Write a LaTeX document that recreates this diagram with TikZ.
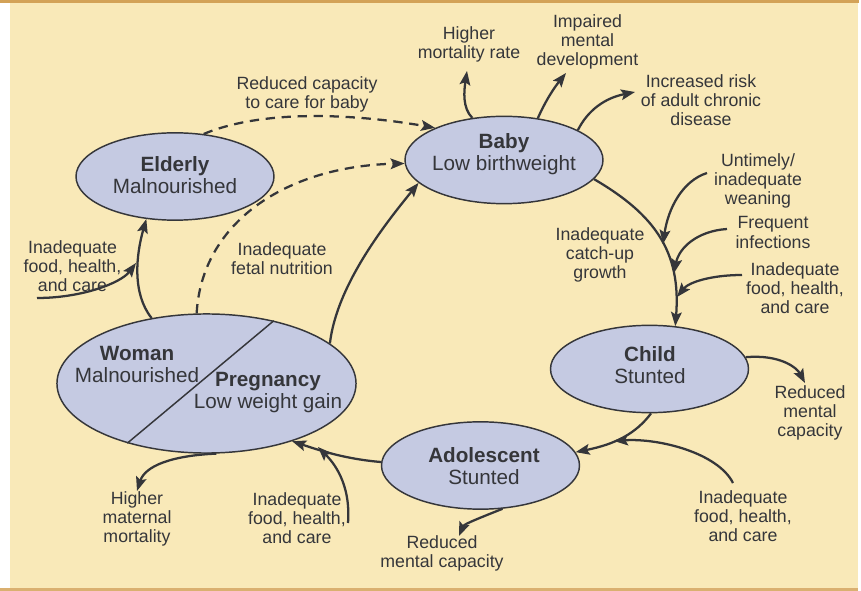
\documentclass[tikz,border=0pt]{standalone}
\usepackage{fontspec}
\setmainfont{Liberation Sans}
\usetikzlibrary{arrows.meta,shapes.geometric}

\definecolor{cream}{HTML}{F9E9B8}
\definecolor{tanbar}{HTML}{D3A257}
\definecolor{lavender}{HTML}{C5CAE2}
\definecolor{ink}{HTML}{35363A}

\tikzset{
	blob/.style={ellipse, draw=ink, line width=1.1pt, fill=lavender, minimum width=148.5pt, minimum height=65.5pt, inner sep=0pt},
	head/.style={align=center, text=ink, font=\fontsize{15.5}{16.5}\selectfont, inner sep=0pt},
	lbl/.style={align=center, text=ink, font=\fontsize{13.3}{14.3}\selectfont, inner sep=0pt},
	arr/.style={draw=ink, line width=1.7pt, -{Stealth[length=10.5pt,width=8pt,inset=2pt]}},
	dasharr/.style={arr, dash pattern=on 7pt off 5pt},
}

\begin{document}
\begin{tikzpicture}[x=0.75pt, y=-0.75pt]
			%%%%% START %%%%%
			\useasboundingbox (0, 0) rectangle (861, 591);
			\fill[white] (0, 0) rectangle (861, 591);
			\fill[cream] (10, 3) rectangle (858, 589);
			\fill[tanbar] (0, 0) rectangle (859, 3);
			\fill[tanbar!85] (0, 588.5) rectangle (858, 591);
			
			% stages
			\node[blob] (elderly) at (175, 176.5) {};
			\node[blob] (baby) at (504, 160) {};
			\node[blob] (child) at (649.5, 369) {};
			\node[blob] (adol) at (480.5, 465.5) {};
			\node[blob, minimum width=224.3pt, minimum height=104.3pt] (woman) at (206.5, 383.5) {};
			\draw[ink, line width=1.1pt] (woman.43) -- (woman.217);
			
			\node[head] (elderlytxt) at (175, 175) {\textbf{Elderly}\\Malnourished};
			\node[head] (babytxt) at (504, 154) {\textbf{Baby}\\Low birthweight};
			\node[head] (childtxt) at (650, 365) {\textbf{Child}\\Stunted};
			\node[head] (adoltxt) at (484, 466.5) {\textbf{Adolescent}\\Stunted};
			\node[head] (womantxt) at (137, 364) {\textbf{Woman}\\Malnourished};
			\node[head] (pregtxt) at (268, 392.5) {\textbf{Pregnancy}\\Low weight gain};
			
			% labels
			\node[lbl] (care) at (307, 94) {Reduced capacity\\to care for baby};
			\node[lbl] (mort) at (469, 44) {Higher\\mortality rate};
			\node[lbl] (mind) at (587.5, 42) {Impaired\\mental\\development};
			\node[lbl] (risk) at (701, 100) {Increased risk\\of adult chronic\\disease};
			\node[lbl] (wean) at (758, 180.5) {Untimely/\\inadequate\\weaning};
			\node[lbl] (infect) at (773, 232.5) {Frequent\\infections};
			\node[lbl] (foodc) at (795, 288.5) {Inadequate\\food, health,\\and care};
			\node[lbl] (catch) at (600, 254.5) {Inadequate\\catch-up\\growth};
			\node[lbl] (redc) at (810, 413) {Reduced\\mental\\capacity};
			\node[lbl] (fooda) at (743, 516) {Inadequate\\food, health,\\and care};
			\node[lbl] (reda) at (442, 553.5) {Reduced\\mental capacity};
			\node[lbl] (matern) at (137, 519) {Higher\\maternal\\mortality};
			\node[lbl] (foodp) at (297, 518.5) {Inadequate\\food, health,\\and care};
			\node[lbl] (foode) at (72.5, 266) {Inadequate\\food, health,\\and care};
			\node[lbl] (fetal) at (282, 259) {Inadequate\\fetal nutrition};
			
			% free ends
			\coordinate (mortend) at (467, 71);
			\coordinate (mindend) at (566, 73);
			\coordinate (riskend) at (635, 92);
			\coordinate (weanstart) at (707, 173);
			\coordinate (weanhit) at (663, 244);
			\coordinate (infstart) at (727, 229);
			\coordinate (infhit) at (674, 273);
			\coordinate (foodcstart) at (742, 275);
			\coordinate (foodchit) at (677, 297);
			\coordinate (redcend) at (805, 383);
			\coordinate (foodastart) at (733, 483);
			\coordinate (foodahit) at (614, 441);
			\coordinate (redaend) at (459, 536);
			\coordinate (foodpstart) at (348, 523);
			\coordinate (foodphit) at (318, 447);
			\coordinate (matend) at (137, 491);
			\coordinate (foodestart) at (37, 298);
			\coordinate (foodehit) at (136, 263);
			
			% cycle
			\draw[dasharr] (elderly.56) .. controls +(60, -25) and +(-80, -14) .. (baby.155);
			\draw[dasharr] (woman.98) .. controls +(5, -90) and +(-120, 3) .. (baby.182);
			\draw[arr] (woman.18) .. controls +(7, -60) and +(-30, 37) .. (baby.195);
			\draw[arr] (woman.130) .. controls +(-20, -25) and +(-10, 35) .. (elderly.236);
			\draw[arr] (baby.-12) .. controls +(60, 35) and +(6, -75) .. (child.59);
			\draw[arr] (child.-88) .. controls +(-15, 20) and +(40, -8) .. (adol.8);
			\draw[arr] (adol.178) .. controls +(-35, -3) and +(30, 10) .. (woman.-34);
			
			% outcomes
			\draw[arr] (baby.127) .. controls +(-10, -10) and +(-3, 20) .. (mortend);
			\draw[arr] (baby.51) .. controls +(8, -18) and +(-12, 15) .. (mindend);
			\draw[arr] (baby.22) .. controls +(10, -20) and +(-30, 6) .. (riskend);
			\draw[arr] (child.7) .. controls +(35, -3) and +(-8, -15) .. (redcend);
			\draw[arr] (adol.-63) .. controls +(-20, 8) and +(5, -12) .. (redaend);
			\draw[arr] (woman.-82) .. controls +(-45, 2) and +(8, -25) .. (matend);
			
			% inputs
			\draw[arr] (weanstart) .. controls +(-25, 8) and +(5, -35) .. (weanhit);
			\draw[arr] (infstart) .. controls +(-30, 2) and +(5, -25) .. (infhit);
			\draw[arr] (foodcstart) .. controls +(-30, 0) and +(12, -15) .. (foodchit);
			\draw[arr] (foodastart) .. controls +(-15, -30) and +(45, -3) .. (foodahit);
			\draw[arr] (foodpstart) .. controls +(3, -40) and +(15, 15) .. (foodphit);
			\draw[arr] (foodestart) .. controls +(45, 0) and +(-15, 20) .. (foodehit);
			%%%%% END %%%%%
\end{tikzpicture}
\end{document}
